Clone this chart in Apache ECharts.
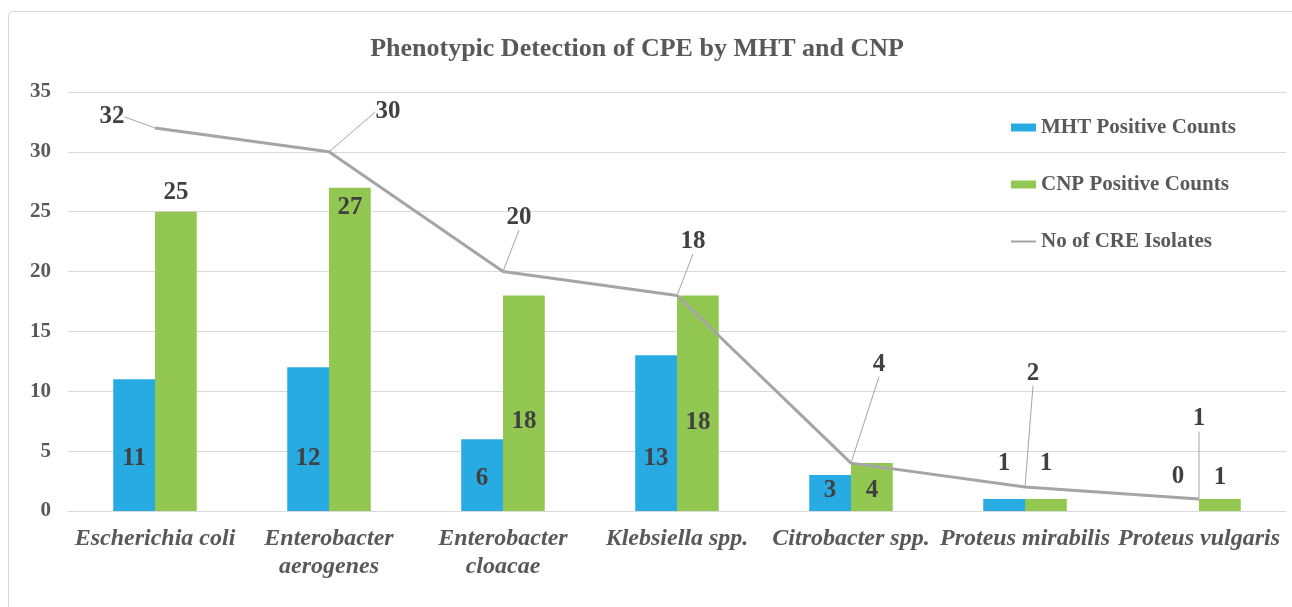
<!DOCTYPE html>
<html>
<head>
<meta charset="utf-8">
<script src="https://cdn.jsdelivr.net/npm/echarts@6/dist/echarts.min.js"></script>
<style>
html,body{margin:0;padding:0;background:#fff;}
#chart{width:1292px;height:607px;}
</style>
</head>
<body>
<div id="chart"></div>
<script>
const categories = ['Escherichia coli', 'Enterobacter\naerogenes', 'Enterobacter\ncloacae', 'Klebsiella spp.', 'Citrobacter spp.', 'Proteus mirabilis', 'Proteus vulgaris'];
const mhtPositive = [11, 12, 6, 13, 3, 1, 0];
const cnpPositive = [25, 27, 18, 18, 4, 1, 1];
const creIsolates = [32, 30, 20, 18, 4, 2, 1];
const seriesNames = ['MHT Positive Counts', 'CNP Positive Counts', 'No of CRE Isolates'];
const titleText = 'Phenotypic Detection of CPE by MHT and CNP';

const SERIF = '"Liberation Serif", "Times New Roman", serif';
// label vertical offsets (pixels above bar base) for manual Excel-like placement
const mhtLabelLift = [40, 40, 20, 40, 8, 35, 22];
const cnpLabelLift = [306, 291, 77, 76, 8, 35, 21];
const lineLabelShift = [[-43, -11], [59, -40], [16, -54], [16, -54], [28, -99], [8, -114], [0, -80]];

function barData(vals, lifts) {
  return vals.map((v, i) => ({
    value: v,
    label: { offset: [0, -lifts[i]] }
  }));
}

const chart = echarts.init(document.getElementById('chart'), null, { renderer: 'canvas' });
const labelStyle = { fontFamily: SERIF, fontWeight: 'bold', fontSize: 25, color: '#404040' };

chart.setOption({
  animation: false,
  backgroundColor: '#ffffff',
  graphic: [{
    type: 'rect',
    shape: { x: 8.5, y: 11.5, width: 1300, height: 620, r: 4 },
    style: { fill: 'none', stroke: '#d9d9d9', lineWidth: 1 },
    silent: true, z: -1
  }],
  title: {
    text: titleText,
    left: 632, top: 31, textAlign: 'center',
    textStyle: { fontFamily: SERIF, fontWeight: 'bold', fontSize: 26, color: '#595959' }
  },
  legend: {
    orient: 'vertical',
    left: 1010, top: 117, padding: 0,
    itemWidth: 25, itemHeight: 8, itemGap: 36,
    textStyle: { fontFamily: SERIF, fontWeight: 'bold', fontSize: 21, color: '#595959' },
    data: [
      { name: seriesNames[0], icon: 'rect' },
      { name: seriesNames[1], icon: 'rect' },
      { name: seriesNames[2], itemStyle: { color: 'rgba(0,0,0,0)', borderWidth: 0 } }
    ]
  },
  grid: { left: 68, right: 6, top: 92, bottom: 96, containLabel: false },
  xAxis: {
    type: 'category',
    data: categories,
    axisLine: { lineStyle: { color: '#d9d9d9', width: 1 } },
    axisTick: { show: false },
    axisLabel: {
      interval: 0, margin: 14,
      fontFamily: SERIF, fontWeight: 'bold', fontStyle: 'italic', fontSize: 24,
      lineHeight: 28, color: '#595959'
    }
  },
  yAxis: {
    type: 'value', min: 0, max: 35, interval: 5,
    axisLine: { show: false }, axisTick: { show: false },
    splitLine: { lineStyle: { color: '#d9d9d9', width: 1 } },
    axisLabel: { margin: 17, fontFamily: SERIF, fontWeight: 'bold', fontSize: 21, color: '#595959' }
  },
  series: [
    {
      name: seriesNames[0], type: 'bar',
      barGap: '0%', barCategoryGap: '52%',
      itemStyle: { color: '#28ABE3' },
      label: Object.assign({ show: true, position: 'insideBottom', distance: 0 }, labelStyle),
      data: barData(mhtPositive, mhtLabelLift)
    },
    {
      name: seriesNames[1], type: 'bar',
      barGap: '0%', barCategoryGap: '52%',
      itemStyle: { color: '#92C852' },
      label: Object.assign({ show: true, position: 'insideBottom', distance: 0 }, labelStyle),
      data: barData(cnpPositive, cnpLabelLift)
    },
    {
      name: seriesNames[2], type: 'line',
      symbol: 'circle', symbolSize: 1, showSymbol: true,
      itemStyle: { color: '#A5A5A5' },
      lineStyle: { color: '#A5A5A5', width: 3 },
      z: 5,
      label: Object.assign({ show: true, position: 'inside' }, labelStyle),
      labelLine: { show: true, lineStyle: { color: '#A5A5A5', width: 1 } },
      labelLayout: function (p) {
        const s = lineLabelShift[p.dataIndex];
        return { dx: s[0], dy: s[1] };
      },
      data: creIsolates
    }
  ]
});
</script>
</body>
</html>
